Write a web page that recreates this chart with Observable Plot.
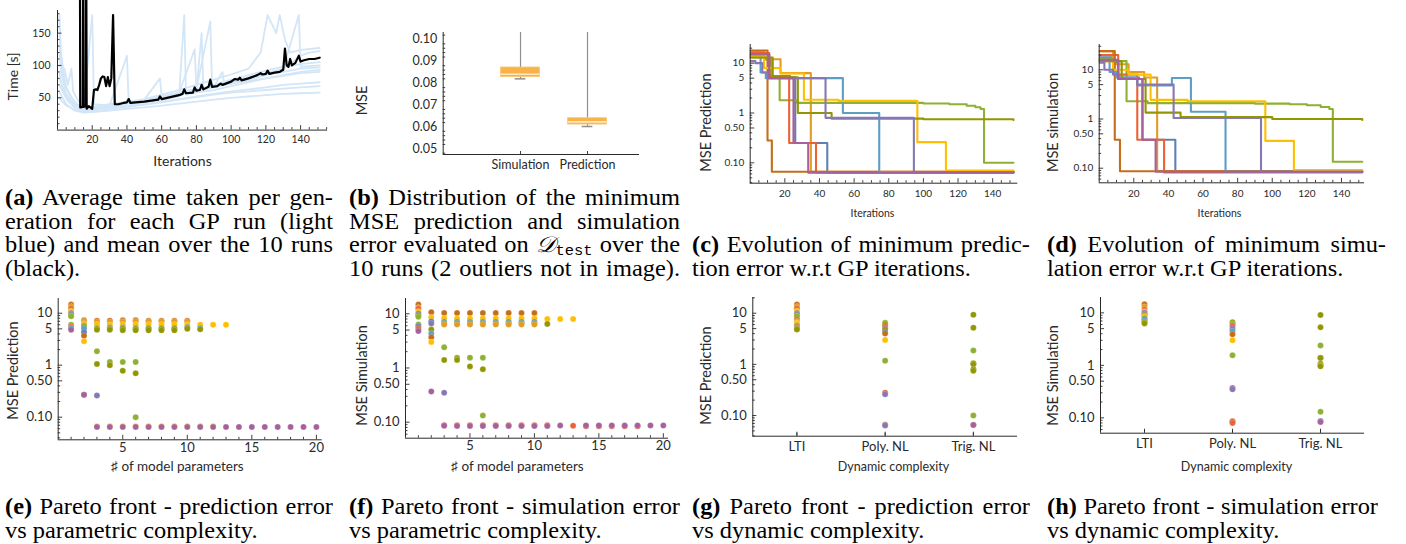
<!DOCTYPE html>
<html><head><meta charset="utf-8">
<script src="https://cdn.jsdelivr.net/npm/d3@7"></script>
<script src="https://cdn.jsdelivr.net/npm/@observablehq/plot@0.6"></script>
<style>
html,body{margin:0;padding:0;background:#fff;}
body{width:1406px;height:544px;overflow:hidden;position:relative;}
.panel{position:absolute;}
.panel svg{overflow:visible;}
.cap{position:absolute;font-family:"Liberation Serif","Times New Roman",serif;font-size:22.2px;line-height:23.5px;color:#000;transform:scaleX(1.1);transform-origin:0 0;}
.cap div{white-space:nowrap;height:23.5px;}
.cap div.j{text-align:justify;text-align-last:justify;}
.cal{font-family:"DejaVu Serif","DejaVu Sans",serif;font-style:italic;line-height:0;}
.cap sub.tt{font-family:"Liberation Mono","DejaVu Sans Mono",monospace;font-size:14px;line-height:0;vertical-align:baseline;position:relative;top:0.2em;}
</style></head><body>
<script>
// ---------------- DATA ----------------
const runColors = ["#5E81B5","#E19C24","#8FB032","#EB6235","#8778B3","#C56E1A","#5D9EC7","#FFBF00","#A5609D","#929600"];

// (a) time per generation [iteration, seconds]
const timeRun1 = [[1,60],[5,40],[10,30],[15,27],[20,28],[30,30],[40,33],[50,35],[60,38],[70,41],[80,44],[90,47],[100,50],[110,52],[120,54],[130,56],[140,57],[151,58]];
const timeRun2 = [[1,90],[3,60],[6,45],[10,35],[15,30],[20,31],[30,34],[40,37],[50,40],[60,44],[70,48],[80,52],[90,56],[100,60],[110,63],[120,66],[130,70],[140,72],[151,74]];
const timeRun3 = [[1,178],[2,120],[4,70],[8,50],[12,38],[16,32],[20,33],[30,36],[40,40],[41,48],[42,40],[50,43],[60,47],[70,52],[73,178],[74,55],[80,58],[90,62],[100,68],[110,74],[120,80],[130,85],[140,90],[151,93]];
const timeRun4 = [[1,130],[3,100],[5,65],[10,42],[15,34],[20,178],[21,40],[30,38],[40,115],[41,42],[50,46],[60,50],[70,55],[80,60],[83,150],[84,64],[90,68],[100,74],[110,80],[120,86],[130,90],[140,95],[151,97]];
const timeRun5 = [[1,100],[4,95],[6,70],[8,95],[9,60],[12,45],[16,36],[20,35],[30,40],[40,44],[50,47],[59,80],[60,52],[70,58],[80,64],[88,168],[89,68],[100,75],[110,82],[120,88],[130,95],[139,178],[140,98],[151,100]];
const timeRun6 = [[1,80],[4,60],[8,45],[12,38],[16,33],[20,34],[30,38],[40,42],[50,46],[60,51],[70,57],[79,125],[80,62],[90,70],[100,78],[110,85],[120,92],[130,98],[140,102],[151,105]];
const timeRun7 = [[1,178],[2,90],[5,55],[9,40],[14,32],[20,33],[30,37],[40,42],[50,48],[60,55],[70,62],[80,70],[90,78],[100,86],[110,95],[117,120],[121,178],[126,150],[128,178],[131,140],[134,120],[140,124],[151,127]];
const timeRun8 = [[1,70],[5,50],[10,38],[15,32],[20,33],[30,37],[40,41],[50,45],[60,50],[70,55],[80,60],[90,66],[100,72],[110,78],[120,85],[130,95],[140,115],[145,120],[151,122]];
const timeRun9 = [[1,120],[3,80],[7,55],[11,40],[16,34],[20,35],[30,39],[40,43],[50,47],[60,52],[70,57],[80,62],[90,67],[95,90],[96,70],[100,72],[110,76],[120,80],[130,84],[140,88],[151,90]];
const timeRun10 = [[1,50],[5,38],[10,32],[15,29],[20,30],[30,33],[40,36],[50,39],[60,43],[70,47],[80,51],[90,55],[100,58],[110,60],[120,62],[130,64],[140,66],[151,68]];
const timeMean = [[12.9,300],[13.1,35],[14.6,36],[14.8,300],[15.0,36],[16.3,37],[16.5,300],[16.8,33],[18,37],[20,33],[21,62],[22,63],[23,62],[24,70],[25,80],[26,83],[27,82],[28,68],[29,82],[30,68],[31,80],[32,178],[33,40],[35,40],[38,42],[40,43],[41,48],[42,42],[45,43],[50,44],[55,46],[58,47],[59,52],[60,48],[65,51],[70,54],[72,56],[73,63],[74,57],[78,58],[79,66],[80,61],[82,62],[83,70],[84,63],[87,67],[88,78],[89,67],[92,68],[94,72],[95,70],[100,75],[102,79],[104,78],[105,81],[106,77],[110,80],[115,85],[117,88],[118,86],[120,87],[121,92],[122,87],[125,89],[128,90],[129,92],[130,93],[131,126],[132,100],[133,98],[134,110],[135,100],[137,104],[139,115],[140,106],[142,108],[145,110],[148,110],[151,112]];

// (b) box statistics of minimum MSE
const boxCategories = ["Simulation","Prediction"];
const boxLow    = [0.0820, 0.0602];
const boxQ1     = [0.0828, 0.0611];
const boxMedian = [0.0841, 0.0623];
const boxQ3     = [0.0872, 0.0640];
const boxHigh   = [0.1040, 0.1040];

// (c) minimum prediction MSE per run, step breakpoints [iteration, MSE]
const predRuns = [
  [[0,15],[8,12],[11,5.5],[23,5.2],[26,0.25],[44.5,0.064],[152,0.064]],
  [[0,17.5],[8,12],[17.5,6.3],[35,0.066],[152,0.066]],
  [[0,13],[9,12],[12,5.2],[17,1.8],[27,1.6],[100,1.55],[115,1.5],[125,1.4],[130,1.3],[133,1.2],[135,0.1],[152,0.1]],
  [[0,16],[11,5.5],[22.5,0.25],[38,0.064],[152,0.064]],
  [[0,11],[3,10],[7,6.5],[10,5],[43.5,0.8],[94.5,0.065],[152,0.065]],
  [[0,18],[10,0.28],[12.5,0.066],[152,0.066]],
  [[0,14],[6,6.5],[9,5],[53.5,1.0],[74.5,0.065],[152,0.065]],
  [[0,14],[8,8],[17.5,6.2],[31,1.85],[51,1.75],[96.5,0.26],[113,0.07],[152,0.07]],
  [[0,15],[11,5],[25,0.25],[33.5,0.063],[152,0.063]],
  [[0,13],[13,5.2],[27.5,1.0],[47,0.77],[100,0.75],[152,0.72]]
];
// (d) minimum simulation MSE per run
const simRuns = [
  [[0,18],[8,14],[11,7],[23,6.5],[25,0.38],[44,0.085],[152,0.085]],
  [[0,24],[8,13],[17,9],[26,7],[33.5,0.088],[152,0.088]],
  [[0,17],[9,15],[15.8,2.3],[28,2.1],[90,2.05],[110,2.0],[120,1.9],[128,1.75],[133,1.6],[135,0.135],[152,0.135]],
  [[0,20],[11,8],[22,0.38],[37.5,0.082],[152,0.082]],
  [[0,14],[3,10],[8,8],[11,6.5],[22,5],[43,1.05],[93.5,0.085],[152,0.085]],
  [[0,24],[9,0.38],[12,0.087],[152,0.087]],
  [[0,16],[6,9],[10,7],[22,4.8],[42,6.8],[53,1.4],[73,0.085],[152,0.085]],
  [[0,15],[8,10],[17,8],[29.7,2.45],[51,2.3],[96,0.36],[112.5,0.092],[152,0.092]],
  [[0,16],[11,6.5],[25,0.38],[32.6,0.085],[152,0.085]],
  [[0,15],[13,6.5],[26.8,1.35],[47,1.09],[100,1.0],[152,0.96]]
];
const runDrawOrder = [0,1,2,3,5,6,7,9,4,8];

// (e) Pareto front: [#params, MSE prediction, run]
const paretoPred = [
 [1,14.7,5],[1,13.5,1],[1,12.2,3],[1,11,7],[1,10,4],[1,9.5,0],[1,9,9],[1,8.7,2],[1,6,2],[1,5.5,3],[1,5.2,6],[1,4.8,8],
 [2,7.3,5],[2,7,1],[2,6.3,7],[2,5.8,2],[2,5.3,9],[2,5,6],[2,4.3,0],[2,3.7,5],[2,2.9,7],[2,0.27,3],[2,0.27,8],
 [3,7.2,5],[3,6.8,1],[3,6.1,7],[3,5.2,6],[3,5,9],[3,4.8,9],[3,1.85,2],[3,1.05,9],[3,0.26,4],[3,0.067,7],[3,0.065,8],
 [4,7.2,5],[4,6.8,1],[4,6,7],[4,5.3,6],[4,5,9],[4,4.8,9],[4,1.15,2],[4,1.0,9],[4,0.067,7],[4,0.065,8],
 [5,7.3,5],[5,6.9,1],[5,6.1,7],[5,5.3,6],[5,5,9],[5,4.7,9],[5,1.15,2],[5,0.78,9],[5,0.067,7],[5,0.065,8],
 [6,7.3,5],[6,6.9,1],[6,6.1,7],[6,5.2,6],[6,5,9],[6,4.7,9],[6,1.15,2],[6,0.7,9],[6,0.1,2],[6,0.067,7],[6,0.065,8],
 [7,7.2,5],[7,6.9,1],[7,6.1,7],[7,5.2,6],[7,5,9],[7,4.7,9],[7,0.067,7],[7,0.065,8],
 [8,7.2,5],[8,6.9,1],[8,6.1,7],[8,5.2,6],[8,5,9],[8,4.7,9],[8,0.067,7],[8,0.065,8],
 [9,7.2,5],[9,6.9,1],[9,6.1,7],[9,5.2,6],[9,5,9],[9,4.7,9],[9,0.067,7],[9,0.065,8],
 [10,7.2,5],[10,6.9,1],[10,6.1,7],[10,5.4,6],[10,5,9],[10,0.067,7],[10,0.065,8],
 [11,6,7],[11,5.2,6],[11,4.9,9],[11,0.067,7],[11,0.065,8],
 [12,6,7],[12,0.067,7],[12,0.065,8],[13,6,7],[13,0.065,8],
 [14,0.065,8],[15,0.065,8],[16,0.065,8],[17,0.065,8],[18,0.065,8],[19,0.065,8],[20,0.065,8]
];
// (f) Pareto front: [#params, MSE simulation, run]
const paretoSim = [
 [1,14.8,5],[1,13,1],[1,12.3,3],[1,11,7],[1,10,4],[1,9.3,9],[1,8.8,2],[1,6.3,2],[1,5.8,0],[1,5.3,3],[1,4.8,8],
 [2,10.7,5],[2,8.6,7],[2,7.2,0],[2,6.6,4],[2,5.1,9],[2,4.3,6],[2,3.7,5],[2,3.0,7],[2,0.37,8],
 [3,10.3,5],[3,8.3,7],[3,7.1,6],[3,6.6,9],[3,6.3,1],[3,2.4,2],[3,1.4,9],[3,0.35,4],[3,0.088,3],[3,0.086,8],
 [4,10.3,5],[4,8.2,7],[4,7.1,6],[4,6.6,9],[4,6.3,1],[4,1.55,2],[4,1.4,9],[4,0.088,3],[4,0.085,8],
 [5,10.3,5],[5,8.2,7],[5,7.1,6],[5,6.6,9],[5,6.3,1],[5,1.55,2],[5,1.07,9],[5,0.088,3],[5,0.085,8],
 [6,10.3,5],[6,8.2,7],[6,7.1,6],[6,6.6,9],[6,6.3,1],[6,1.55,2],[6,0.95,9],[6,0.133,2],[6,0.088,3],[6,0.085,8],
 [7,10.3,5],[7,8.2,7],[7,7.1,6],[7,6.6,9],[7,6.3,1],[7,0.088,3],[7,0.085,8],
 [8,10.3,5],[8,8.2,7],[8,7.1,6],[8,6.6,9],[8,6.3,1],[8,0.088,3],[8,0.085,8],
 [9,10.3,5],[9,8.2,7],[9,7.1,6],[9,6.6,9],[9,6.3,1],[9,0.088,3],[9,0.085,8],
 [10,10.3,5],[10,8.2,7],[10,7.1,6],[10,6.6,9],[10,6.3,1],[10,0.088,3],[10,0.085,8],
 [11,8,7],[11,6.5,9],[11,0.088,3],[11,0.085,8],
 [12,8,7],[12,0.087,8],[13,8,7],[13,0.086,3],
 [14,0.084,3],[14,0.087,8],[15,0.084,3],[15,0.087,8],[16,0.084,3],[16,0.087,8],[17,0.084,3],[17,0.087,8],[18,0.084,3],[18,0.087,8],[19,0.087,8],[20,0.087,8]
];
// (g),(h) dynamic complexity
const dynCategories = ["LTI","Poly. NL","Trig. NL"];
const dynPred = [
 ["LTI",14.8,5],["LTI",13.5,1],["LTI",12.2,3],["LTI",11,7],["LTI",10,4],["LTI",9.5,0],["LTI",9,9],["LTI",8.7,2],["LTI",7.5,5],["LTI",7,1],["LTI",6.5,7],["LTI",6,7],["LTI",5.8,2],["LTI",5.5,3],["LTI",5.2,6],["LTI",5,9],["LTI",4.8,9],
 ["Poly. NL",6.5,2],["Poly. NL",6,9],["Poly. NL",5.5,3],["Poly. NL",5,8],["Poly. NL",4.8,9],["Poly. NL",4.3,0],["Poly. NL",4,5],["Poly. NL",3.0,7],["Poly. NL",1.18,2],["Poly. NL",0.28,3],["Poly. NL",0.26,4],["Poly. NL",0.067,7],["Poly. NL",0.065,8],["Poly. NL",0.064,4],
 ["Trig. NL",9.3,9],["Trig. NL",5.2,9],["Trig. NL",1.87,2],["Trig. NL",1.05,9],["Trig. NL",1.0,9],["Trig. NL",0.8,9],["Trig. NL",0.75,9],["Trig. NL",0.1,2],["Trig. NL",0.066,1],["Trig. NL",0.065,8]
];
const dynSim = [
 ["LTI",14.5,5],["LTI",13,1],["LTI",11.5,3],["LTI",10.5,7],["LTI",10,4],["LTI",9.3,8],["LTI",9,9],["LTI",8.5,7],["LTI",8,2],["LTI",7.5,0],["LTI",7,6],["LTI",6.6,9],["LTI",6.3,9],
 ["Poly. NL",6.6,9],["Poly. NL",6.2,2],["Poly. NL",5.6,3],["Poly. NL",5,4],["Poly. NL",4.5,6],["Poly. NL",3.9,5],["Poly. NL",3.0,7],["Poly. NL",1.55,2],["Poly. NL",0.37,8],["Poly. NL",0.35,4],["Poly. NL",0.087,1],["Poly. NL",0.084,8],["Poly. NL",0.08,3],
 ["Trig. NL",9.1,9],["Trig. NL",5.3,9],["Trig. NL",2.4,2],["Trig. NL",1.4,9],["Trig. NL",1.38,9],["Trig. NL",1.07,9],["Trig. NL",1.0,2],["Trig. NL",0.96,9],["Trig. NL",0.13,2],["Trig. NL",0.087,4],["Trig. NL",0.083,8]
];

// tick values / labels
const iterMajor = [20,40,60,80,100,120,140];
const iterMinor = [5,10,15,25,30,35,45,50,55,65,70,75,85,90,95,105,110,115,125,130,135,145,150,155];
const timeMajor = [50,100,150], timeMinor = [10,20,30,40,60,70,80,90,110,120,130,140,160,170,180];
const boxMajor = [0.05,0.06,0.07,0.08,0.09,0.10];
const boxMajorLabels = ["0.05","0.06","0.07","0.08","0.09","0.10"];
const boxMinor = [0.048,0.052,0.054,0.056,0.058,0.062,0.064,0.066,0.068,0.072,0.074,0.076,0.078,0.082,0.084,0.086,0.088,0.092,0.094,0.096,0.098,0.102];
const logMajor = [0.1,0.5,1,5,10];
const logMajorLabels = ["0.10","0.50","1","5","10"];
const logMinor = [0.04,0.05,0.06,0.07,0.08,0.09,0.2,0.3,0.4,0.6,0.7,0.8,0.9,2,3,4,6,7,8,9,20,30];
const paramMajor = [5,10,15,20];
const paramMinor = [1,2,3,4,6,7,8,9,11,12,13,14,16,17,18,19];

// ---------------- HELPERS ----------------
const AX = "#2a2a2a";
const FONT = "Lato, 'Liberation Sans', sans-serif";
function clampDom(vals, dom){ const lo=Math.min(...dom), hi=Math.max(...dom); return vals.filter(v=>v>=lo&&v<=hi); }
function axes(o){
  const {x0,y0,xDom,yDom,xMajor=[],xMinor=[],xLabels=[],yMajor=[],yMinor=[],yLabels=[],tickFont,xLabelDy,yLabelDx=-6,majorLen=4.5,minorLen=2.5,xDown=0} = o;
  const X0 = ()=>x0, Y0 = ()=>y0;
  const xM = clampDom(xMajor,xDom), xm = clampDom(xMinor,xDom), yM = clampDom(yMajor,yDom), ym = clampDom(yMinor,yDom);
  const up = (vals,len)=>Plot.ruleX(vals,{x:d=>d,y1:Y0,y2:Y0,insetBottom:len,stroke:AX,strokeWidth:0.9});
  const right = (vals,len)=>Plot.ruleY(vals,{y:d=>d,x1:X0,x2:X0,insetRight:-len,stroke:AX,strokeWidth:0.9});
  const m = [
    Plot.ruleY([y0],{stroke:AX,strokeWidth:1}),
    Plot.ruleX([x0],{stroke:AX,strokeWidth:1}),
    up(xM,majorLen), up(xm,minorLen), right(yM,majorLen), right(ym,minorLen),
    Plot.text(xMajor,{x:d=>d,y:Y0,text:(d,i)=>xLabels[i],dy:xLabelDy,fontSize:tickFont,fill:AX}),
    Plot.text(yMajor,{x:X0,y:d=>d,text:(d,i)=>yLabels[i],textAnchor:"end",dx:yLabelDx,fontSize:tickFont,fill:AX})
  ];
  if (xDown) m.push(Plot.ruleX(xMajor,{x:d=>d,y1:Y0,y2:Y0,insetTop:-xDown,stroke:AX,strokeWidth:0.9}));
  return m;
}
function title(t,dx,dy,size,rot=0){
  return Plot.text([t],{text:d=>d,frameAnchor:"top-left",textAnchor:"middle",lineAnchor:"middle",dx,dy,rotate:rot,fontSize:size,fill:AX});
}
function panel(left,top,opts){
  const svg = Plot.plot(Object.assign({
    style:{fontFamily:FONT,background:"transparent",overflow:"visible",color:AX},
    color:{type:"ordinal",domain:d3.range(10),range:runColors}
  },opts));
  const div = document.createElement("div");
  div.className="panel"; div.style.left=left+"px"; div.style.top=top+"px";
  div.appendChild(svg); document.body.appendChild(div);
}
const tickLabel = v=>String(v);

// ---------------- (a) ----------------
{
  const xDom=[0,155.5], yDom=[0,185];
  const runs=[timeRun1,timeRun2,timeRun3,timeRun4,timeRun5,timeRun6,timeRun7,timeRun8,timeRun9,timeRun10];
  const light = runs.flatMap((s,k)=>s.map(([t,v])=>({k,t,v})));
  panel(0,0,{width:340,height:180,marginLeft:57,marginRight:13,marginTop:10,marginBottom:50.4,
    x:{domain:xDom,axis:null}, y:{domain:yDom,axis:null},
    marks:[
      Plot.line(light,{x:"t",y:"v",z:"k",stroke:"#D3E6F8",strokeWidth:1.8,clip:true}),
      Plot.line(timeMean,{x:d=>d[0],y:d=>d[1],stroke:"#000",strokeWidth:2.2}),
      ...axes({x0:0,y0:0,xDom,yDom,xMajor:iterMajor,xMinor:iterMinor,xLabels:iterMajor.map(tickLabel),
        yMajor:timeMajor,yMinor:timeMinor,yLabels:timeMajor.map(tickLabel),tickFont:10.5,xLabelDy:10,yLabelDx:-7}),
      title("Time [s]",-44,66,14,-90),
      title("Iterations",125,151.5,14)
    ]});
}
// ---------------- (b) ----------------
{
  const xDom=[-0.154,2.776], yDom=[0.0474,0.1032];
  const rows = boxCategories.map((c,i)=>({c,pos:i+1,lo:boxLow[i],q1:boxQ1[i],med:boxMedian[i],q3:boxQ3[i],hi:boxHigh[i]}));
  panel(340,0,{width:340,height:180,marginLeft:102.7,marginRight:41,marginTop:32,marginBottom:26,
    x:{domain:xDom,axis:null}, y:{domain:yDom,axis:null},
    marks:[
      Plot.ruleX(rows,{x:"pos",y1:"q3",y2:"hi",stroke:"#8f8f8f",strokeWidth:1.2,clip:true}),
      Plot.ruleX(rows,{x:"pos",y1:"lo",y2:"q1",stroke:"#8f8f8f",strokeWidth:1.2}),
      Plot.ruleY(rows,{y:"lo",x1:d=>d.pos-0.08,x2:d=>d.pos+0.08,stroke:"#8f8f8f",strokeWidth:1.5}),
      Plot.rect(rows,{x1:d=>d.pos-0.29,x2:d=>d.pos+0.29,y1:"q1",y2:"q3",fill:"#F7B24A",stroke:"#F9C777",strokeWidth:0.8}),
      Plot.ruleY(rows,{y:"med",x1:d=>d.pos-0.29,x2:d=>d.pos+0.29,stroke:"#FFE8BF",strokeWidth:1.6}),
      ...axes({x0:xDom[0],y0:yDom[0],xDom,yDom,xMajor:[1,2],xMinor:[],xLabels:boxCategories,majorLen:0,
        yMajor:boxMajor,yMinor:boxMinor,yLabels:boxMajorLabels,tickFont:12.5,xLabelDy:10,yLabelDx:-6,xDown:3}),
      title("MSE",-80.7,68,14.5,-90)
    ]});
}
// ---------------- (c),(d) ----------------
function evolution(left,runsData,yDom,geo,ylab,yLabDx){
  const xDom=[0,geo.xMax];
  const rows = runDrawOrder.flatMap(k=>runsData[k].map(([t,v])=>({k,t,v})));
  panel(left,0,{width:geo.w,height:230,marginLeft:geo.ml,marginRight:geo.mr,marginTop:44,marginBottom:geo.mb,
    x:{domain:xDom,axis:null}, y:{type:"log",domain:yDom,axis:null},
    marks:[
      Plot.line(rows,{x:"t",y:"v",z:"k",stroke:"k",curve:"step-after",strokeWidth:2.1,clip:true}),
      ...axes({x0:0,y0:yDom[0],xDom,yDom,xMajor:iterMajor,xMinor:iterMinor,xLabels:iterMajor.map(tickLabel),
        yMajor:logMajor,yMinor:logMinor,yLabels:logMajorLabels,tickFont:10,xLabelDy:10.5,yLabelDx:-6}),
      title(ylab,yLabDx,78,14.5,-90),
      title("Iterations",geo.ilx,169,10.5)
    ]});
}
evolution(680,predRuns,[0.039,23.7],{w:360,ml:69.7,mr:22.7,mb:47.3,xMax:154.5,ilx:122.3},"MSE Prediction",-43.7);
evolution(1040,simRuns,[0.0505,32.7],{w:366,ml:58.7,mr:42,mb:47.7,xMax:153.3,ilx:120.3},"MSE simulation",-45.7);

// ---------------- (e),(f) ----------------
function paretoParams(left,data,yDom,geo,ylab){
  const xDom=[0,geo.xMax];
  panel(left,290,{width:340,height:190,marginLeft:geo.ml,marginRight:geo.mr,marginTop:8,marginBottom:geo.mb,
    x:{domain:xDom,axis:null}, y:{type:"log",domain:yDom,axis:null},
    marks:[
      Plot.dot(data,{x:d=>d[0],y:d=>d[1],fill:d=>d[2],r:3,stroke:"#fff",strokeOpacity:0.35,strokeWidth:0.6}),
      ...axes({x0:0,y0:yDom[0],xDom,yDom,xMajor:paramMajor,xMinor:paramMinor,xLabels:paramMajor.map(tickLabel),
        yMajor:logMajor,yMinor:logMinor,yLabels:logMajorLabels,tickFont:13,xLabelDy:8,yLabelDx:-6}),
      title(ylab,geo.yl,geo.yld,14.5,-90),
      title("\u266F of model parameters",geo.xl,168,13.5)
    ]});
}
paretoParams(0,paretoPred,[0.0367,19.2],{ml:57.7,mr:18.3,mb:40.7,xMax:20.45,yl:-44.7,yld:72,xl:119.3},"MSE Prediction");
paretoParams(340,paretoSim,[0.0507,19.1],{ml:65,mr:12,mb:42.3,xMax:20.4,yl:-43.3,yld:77,xl:112},"MSE Simulation");

// ---------------- (g),(h) ----------------
function paretoDyn(left,w,data,yDom,geo,ylab){
  const xDom=[-0.5,2.5];
  panel(left,290,{width:w,height:190,marginLeft:geo.ml,marginRight:geo.mr,marginTop:7,marginBottom:geo.mb,
    x:{domain:xDom,axis:null}, y:{type:"log",domain:yDom,axis:null},
    marks:[
      Plot.dot(data,{x:d=>dynCategories.indexOf(d[0]),y:d=>d[1],fill:d=>d[2],r:3,stroke:"#fff",strokeOpacity:0.35,strokeWidth:0.6}),
      ...axes({x0:-0.5,y0:yDom[0],xDom,yDom,xMajor:[0,1,2],xMinor:[],xLabels:dynCategories,majorLen:4,
        yMajor:logMajor,yMinor:logMinor,yLabels:logMajorLabels,tickFont:13,xLabelDy:11,yLabelDx:-6,xDown:3}),
      title(ylab,geo.yl,78,14.5,-90),
      title("Dynamic complexity",geo.xl,169,12.5)
    ]});
}
paretoDyn(680,360,dynPred,[0.0394,20.3],{ml:72.3,mr:23,mb:44.3,yl:-46.3,xl:140.7},"MSE Prediction");
paretoDyn(1040,366,dynSim,[0.051,19.6],{ml:60,mr:42,mb:47.3,yl:-47,xl:136},"MSE Simulation");

// ---------------- captions ----------------
const captionTexts = [
  [5,186,328,["<b>(a)</b> Average time taken per gen-","eration for each GP run (light","blue) and mean over the 10 runs","(black)."]],
  [349,186,331,["<b>(b)</b> Distribution of the minimum","MSE prediction and simulation","error evaluated on <span class='cal'>𝒟</span><sub class='tt'>test</sub> over the","10 runs (2 outliers not in image)."],true],
  [692,233,338,["<b>(c)</b> Evolution of minimum predic-","tion error w.r.t GP iterations."]],
  [1047,233,339,["<b>(d)</b> Evolution of minimum simu-","lation error w.r.t GP iterations."]],
  [5,495,328,["<b>(e)</b> Pareto front - prediction error","vs parametric complexity."]],
  [349,495,331,["<b>(f)</b> Pareto front - simulation error","vs parametric complexity."]],
  [692,495,338,["<b>(g)</b> Pareto front - prediction error","vs dynamic complexity."]],
  [1047,495,331,["<b>(h)</b> Pareto front - simulation error","vs dynamic complexity."]]
];
for (const [x,y,w,lines,allJust] of captionTexts){
  const c=document.createElement("div"); c.className="cap";
  c.style.left=x+"px"; c.style.top=y+"px"; c.style.width=(w/1.1)+"px";
  c.innerHTML = lines.map((l,i)=>`<div class="${(allJust||i<lines.length-1)?'j':''}">${l}</div>`).join("");
  document.body.appendChild(c);
}
</script>
</body></html>
